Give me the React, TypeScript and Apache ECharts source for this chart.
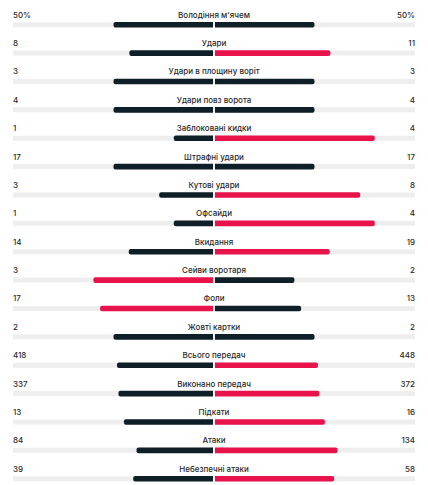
import React, { useEffect, useRef } from "react";
import * as echarts from "echarts";

const categories = [
  "Володіння м'ячем",
  "Удари",
  "Удари в площину воріт",
  "Удари повз ворота",
  "Заблоковані кидки",
  "Штрафні удари",
  "Кутові удари",
  "Офсайди",
  "Вкидання",
  "Сейви воротаря",
  "Фоли",
  "Жовті картки",
  "Всього передач",
  "Виконано передач",
  "Підкати",
  "Атаки",
  "Небезпечні атаки",
];
const homeValues = [50, 8, 3, 4, 1, 17, 3, 1, 14, 3, 17, 2, 418, 337, 13, 84, 39];
const awayValues = [50, 11, 3, 4, 4, 17, 8, 4, 19, 2, 13, 2, 448, 372, 16, 134, 58];
const homeLabels = ["50%", "8", "3", "4", "1", "17", "3", "1", "14", "3", "17", "2", "418", "337", "13", "84", "39"];
const awayLabels = ["50%", "11", "3", "4", "4", "17", "8", "4", "19", "2", "13", "2", "448", "372", "16", "134", "58"];

const DARK = "#0e1f27";
const RED = "#e8134b";
const TRACK = "#eeeeee";
const TEXT = "#2a2a2a";
const FONT = "Inter, Roboto, sans-serif";

export default function App() {
  const ref = useRef<HTMLDivElement>(null);
  useEffect(() => {
    document.body.style.margin = "0";
    const chart = echarts.init(ref.current!, null, { renderer: "svg" });
    const renderItem = (params: any, api: any) => {
      const i = api.value(0);
      const h = homeValues[i];
      const a = awayValues[i];
      const total = h + a;
      const hs = total ? h / total : 0;
      const as = total ? a / total : 0;
      const [x0, y] = api.coord([-1, i]);
      const [xc] = api.coord([0, i]);
      const [x1] = api.coord([1, i]);
      const [xl] = api.coord([-hs, i]);
      const [xr] = api.coord([as, i]);
      const homeColor = h > a ? RED : DARK;
      const awayColor = a > h ? RED : DARK;
      const bh = 5.6;
      const th = 5;
      const ty = y - 10;
      return {
        type: "group",
        children: [
          { type: "rect", shape: { x: x0, y: y - th / 2, width: x1 - x0, height: th }, style: { fill: TRACK } },
          { type: "rect", shape: { x: xl, y: y - bh / 2, width: xc - 1 - xl, height: bh, r: [2, 0, 0, 2] }, style: { fill: homeColor } },
          { type: "rect", shape: { x: xc + 1, y: y - bh / 2, width: xr - xc - 1, height: bh, r: [0, 2, 2, 0] }, style: { fill: awayColor } },
          { type: "text", x: xc, y: ty, style: { text: categories[i], fill: TEXT, font: `500 8px ${FONT}`, align: "center", verticalAlign: "middle" } },
          { type: "text", x: x0, y: ty, style: { text: homeLabels[i], fill: TEXT, font: `500 8px ${FONT}`, align: "left", verticalAlign: "middle" } },
          { type: "text", x: x1, y: ty, style: { text: awayLabels[i], fill: TEXT, font: `500 8px ${FONT}`, align: "right", verticalAlign: "middle" } },
        ],
      };
    };
    chart.setOption({
      animation: false,
      grid: { left: 13, right: 13, top: 24.7, bottom: 6.3 },
      xAxis: { type: "value", min: -1, max: 1, show: false },
      yAxis: { type: "category", data: categories, inverse: true, boundaryGap: false, show: false },
      series: [
        {
          type: "custom",
          renderItem,
          data: categories.map((_, i) => [i]),
          clip: false,
        },
      ],
    });
    return () => chart.dispose();
  }, []);
  return <div ref={ref} style={{ width: 428, height: 485 }} />;
}
